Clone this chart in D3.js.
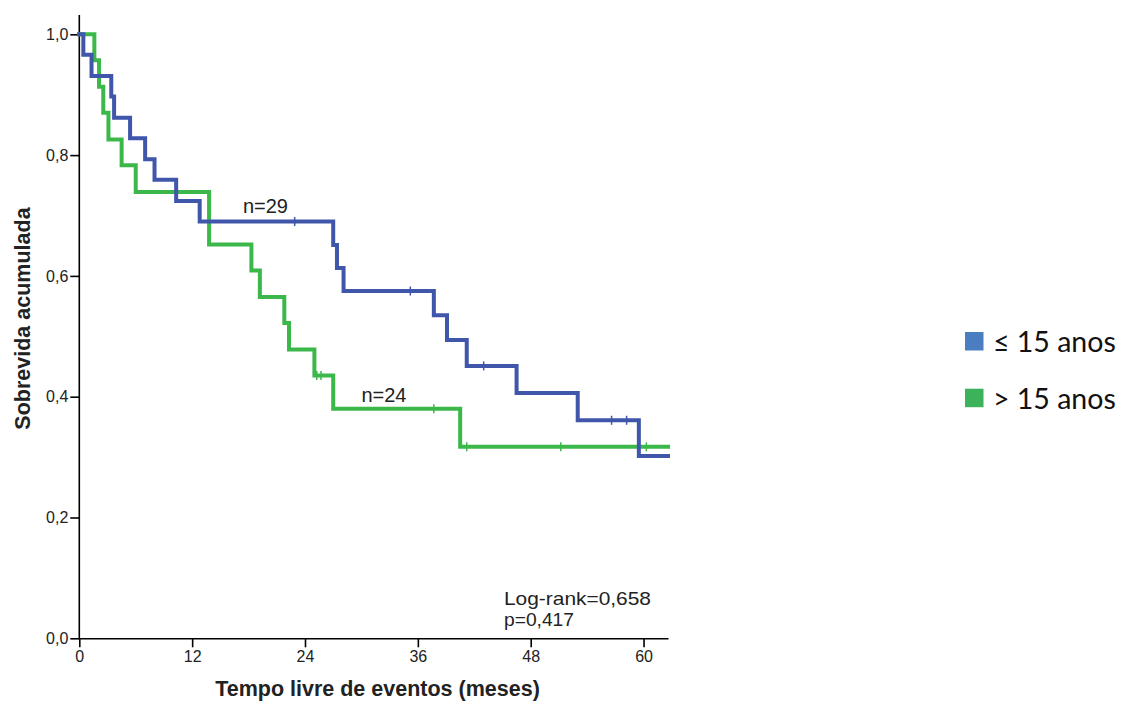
<!DOCTYPE html>
<html>
<head>
<meta charset="utf-8">
<script src="https://cdn.jsdelivr.net/npm/d3@7"></script>
<style>
  html, body { margin: 0; padding: 0; background: #ffffff; }
  svg { display: block; }
</style>
</head>
<body>
<svg id="chart" width="1122" height="705"></svg>
<script>
// Kaplan–Meier step data: event times (months) and cumulative survival after each event
const groups = ["≤ 15 anos", "> 15 anos"];

const youngTimes = [0.43, 1.3, 3.4, 3.7, 5.4, 7.0, 8.0, 10.3, 12.8, 27.0, 27.4, 28.1, 37.7, 39.1, 41.2, 46.5, 53.0, 59.5];
const youngSurv  = [0.966, 0.931, 0.897, 0.862, 0.828, 0.793, 0.759, 0.724, 0.690, 0.651, 0.613, 0.575, 0.535, 0.494, 0.451, 0.406, 0.361, 0.302];
const youngCensored = [22.9, 35.2, 43.0, 56.6, 58.2];

const olderTimes = [1.6, 2.1, 2.55, 3.1, 4.5, 6.0, 13.8, 18.3, 19.2, 21.8, 22.3, 25.0, 27.0, 40.5];
const olderSurv  = [0.957, 0.913, 0.870, 0.826, 0.783, 0.739, 0.652, 0.609, 0.565, 0.522, 0.478, 0.435, 0.380, 0.317];
const olderCensored = [25.25, 25.7, 37.7, 41.2, 51.2, 60.3];

const groupSizes = ["n=29", "n=24"];
const xTicks = [0, 12, 24, 36, 48, 60];
const yTicks = [0, 0.2, 0.4, 0.6, 0.8, 1.0];
const statLines = ["Log-rank=0,658", "p=0,417"];

const maxTime = 62.6;
const lineColors = ["#3f56aa", "#3cb84a"];
const legendColors = ["#4a7ec0", "#3cb25a"];

const svg = d3.select("#chart");

const x = d3.scaleLinear().domain([0, maxTime]).range([79.3, 668]);
const y = d3.scaleLinear().domain([0, 1]).range([638.3, 34.3]);
const yTop = 1.032;

const comma = v => d3.format(".1f")(v).replace(".", ",");
const labelFont = "'Liberation Sans', Arial, sans-serif";

// Axes
const xAxis = d3.axisBottom(x).tickValues(xTicks).tickSize(9).tickSizeOuter(0).tickPadding(3);
const gx = svg.append("g").attr("transform", `translate(0,${y(0)})`).call(xAxis);
gx.select(".domain").attr("stroke", "#000").attr("stroke-width", 1.6);
gx.selectAll(".tick line").attr("stroke", "#000").attr("stroke-width", 1.6);
gx.selectAll(".tick text")
  .attr("font-family", labelFont)
  .attr("font-size", 16).attr("fill", "#222");

const yAxis = d3.axisLeft(y).tickValues(yTicks).tickFormat(comma).tickSize(9).tickSizeOuter(0).tickPadding(2);
const gy = svg.append("g").attr("transform", `translate(${x(0)},0)`).call(yAxis);
gy.select(".domain").attr("d", `M0,${y(0)}V${y(yTop)}`).attr("stroke", "#000").attr("stroke-width", 1.6);
gy.selectAll(".tick line").attr("stroke", "#000").attr("stroke-width", 1.6);
gy.selectAll(".tick text")
  .attr("font-family", labelFont)
  .attr("font-size", 16).attr("fill", "#222");

// Axis titles
svg.append("text")
  .attr("x", 377.5).attr("y", 696)
  .attr("text-anchor", "middle")
  .attr("font-family", labelFont)
  .attr("font-weight", "bold").attr("font-size", 21.5).attr("fill", "#222")
  .text("Tempo livre de eventos (meses)");

svg.append("text")
  .attr("transform", "translate(30,318.5) rotate(-90)")
  .attr("text-anchor", "middle")
  .attr("font-family", labelFont)
  .attr("font-weight", "bold").attr("font-size", 21.5).attr("fill", "#222")
  .text("Sobrevida acumulada");

// Survival curves
const series = [
  { times: olderTimes, surv: olderSurv, cens: olderCensored, color: lineColors[1] },
  { times: youngTimes, surv: youngSurv, cens: youngCensored, color: lineColors[0] }
];

const stepLine = d3.line().x(d => x(d[0])).y(d => y(d[1])).curve(d3.curveStepAfter);

function survAt(s, t) {
  let v = 1;
  s.times.forEach((tt, i) => { if (tt <= t) v = s.surv[i]; });
  return v;
}

series.forEach(s => {
  const pts = [[0, 1]].concat(s.times.map((t, i) => [t, s.surv[i]]));
  pts.push([maxTime, s.surv[s.surv.length - 1]]);
  svg.append("path")
    .attr("d", stepLine(pts))
    .attr("fill", "none")
    .attr("stroke", s.color)
    .attr("stroke-width", 4)
    .attr("stroke-linejoin", "miter")
    .attr("stroke-linecap", "square");
  svg.append("g").selectAll("line")
    .data(s.cens)
    .join("line")
    .attr("x1", d => x(d)).attr("x2", d => x(d))
    .attr("y1", d => y(survAt(s, d)) - 4.5)
    .attr("y2", d => y(survAt(s, d)) + 4.5)
    .attr("stroke", s.color)
    .attr("stroke-width", 1.5);
});

// Group size labels
svg.append("text").attr("x", x(17.4)).attr("y", 213)
  .attr("font-family", labelFont).attr("font-size", 20).attr("fill", "#222")
  .text(groupSizes[0]);
svg.append("text").attr("x", x(30.0)).attr("y", 402)
  .attr("font-family", labelFont).attr("font-size", 20).attr("fill", "#222")
  .text(groupSizes[1]);

// Test statistic
const stat = svg.append("g").attr("font-family", labelFont).attr("font-size", 18.5).attr("fill", "#222");
statLines.forEach((line, i) => {
  stat.append("text")
    .attr("x", 504).attr("y", 605 + i * 21)
    .attr("textLength", i === 0 ? 147 : 70)
    .attr("lengthAdjust", "spacingAndGlyphs")
    .text(line);
});

// Legend
const legend = svg.append("g");
groups.forEach((g, i) => {
  const ly = 332 + i * 56.7;
  legend.append("rect").attr("x", 965).attr("y", ly).attr("width", 18.5).attr("height", 18.5)
    .attr("fill", legendColors[i]);
  legend.append("text").attr("x", 993).attr("y", ly + 20)
    .attr("font-family", "Lato, 'Open Sans', sans-serif").attr("font-size", 28.5).attr("fill", "#111")
    .text(g);
});
</script>
</body>
</html>
